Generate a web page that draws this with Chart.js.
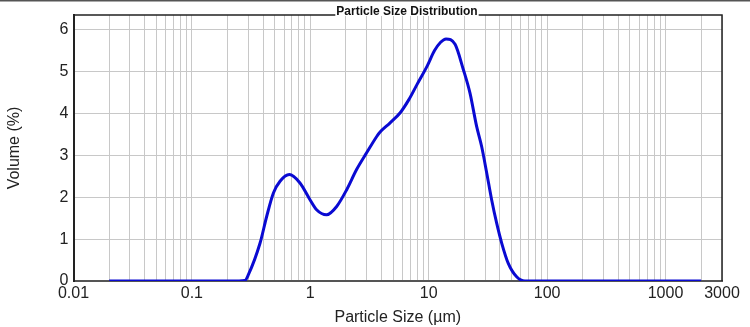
<!DOCTYPE html>
<html>
<head>
<meta charset="utf-8">
<script src="https://cdn.jsdelivr.net/npm/chart.js@4/dist/chart.umd.min.js"></script>
<style>
  html, body { margin: 0; padding: 0; background: #fff; }
  canvas { display: block; }
</style>
</head>
<body>
<canvas id="psd" width="750" height="327"></canvas>
<script>
// particle size (µm) and volume (%)
const sizes = [0.02, 0.25, 0.28, 0.30, 0.376, 0.428, 0.488, 0.555, 0.665, 0.818, 0.994,
  1.13, 1.37, 1.67, 2.03, 2.46, 2.99, 3.64, 3.87, 4.7, 5.72, 6.8, 8.0, 9.7, 11.2,
  12.6, 14.0, 16.7, 19.6, 22.3, 25.4, 28.0, 30.9, 34.0, 37.5, 41.4, 47.0, 55.3, 65, 2000];
const volumes = [0, 0, 0.01, 0.15, 0.90, 1.54, 2.10, 2.38, 2.54, 2.34, 1.94,
  1.70, 1.58, 1.78, 2.18, 2.66, 3.06, 3.45, 3.55, 3.77, 4.01, 4.33, 4.70, 5.13, 5.50,
  5.70, 5.78, 5.65, 5.05, 4.49, 3.69, 3.21, 2.58, 1.94, 1.38, 0.90, 0.42, 0.10, 0, 0];

// vertical grid lines (log decades) and which of them get a label
const xGrid = [0.01, 0.02, 0.03, 0.04, 0.05, 0.06, 0.07, 0.08, 0.09,
  0.1, 0.2, 0.3, 0.4, 0.5, 0.6, 0.7, 0.8, 0.9,
  1, 2, 3, 4, 5, 6, 7, 8, 9,
  10, 20, 30, 40, 50, 60, 70, 80, 90,
  100, 200, 300, 400, 500, 600, 700, 800, 900,
  1000, 2000, 3000];
const xLabels = ['0.01', '0.1', '1', '10', '100', '1000', '3000'];
const yTicks = [0, 1, 2, 3, 4, 5, 6];

const FONT = '"Liberation Sans", Arial, sans-serif';

// frame, top rule and the title that sits on the top border
const framePlugin = {
  id: 'frame',
  beforeDatasetsDraw(chart) {
    const { ctx, chartArea: a } = chart;
    ctx.save();
    ctx.strokeStyle = '#222';
    ctx.lineWidth = 1.5;
    ctx.beginPath();
    ctx.moveTo(a.left, a.top);
    ctx.lineTo(a.right, a.top);
    ctx.lineTo(a.right, a.bottom);
    ctx.stroke();
    ctx.restore();
  },
  afterDraw(chart) {
    const { ctx } = chart;
    ctx.save();
    ctx.fillStyle = '#555';
    ctx.fillRect(0, 0, chart.width, 1.5);
    ctx.font = 'bold 12px ' + FONT;
    const title = 'Particle Size Distribution';
    const w = ctx.measureText(title).width;
    const cx = 407;
    ctx.fillStyle = '#fff';
    ctx.fillRect(cx - w / 2 - 1, 3, w + 2, 13);
    ctx.fillStyle = '#111';
    ctx.textAlign = 'center';
    ctx.textBaseline = 'alphabetic';
    ctx.fillText(title, cx, 15);
    ctx.restore();
  }
};

new Chart(document.getElementById('psd'), {
  type: 'line',
  data: {
    datasets: [{
      data: sizes.map((s, i) => ({ x: s, y: volumes[i] })),
      borderColor: '#0a0ad2',
      borderWidth: 3,
      pointRadius: 0,
      fill: false,
      cubicInterpolationMode: 'monotone'
    }]
  },
  options: {
    responsive: false,
    animation: false,
    layout: { padding: { left: 0, right: 28, top: 15, bottom: 0 } },
    plugins: { legend: { display: false }, tooltip: { enabled: false } },
    scales: {
      x: {
        type: 'logarithmic',
        min: 0.01,
        max: 3000,
        afterBuildTicks: s => { s.ticks = xGrid.map(v => ({ value: v })); },
        afterFit: s => { s.height = 46; },
        ticks: {
          autoSkip: false,
          maxRotation: 0,
          padding: 3,
          color: '#222',
          font: { family: FONT, size: 16 },
          callback: v => (xLabels.includes(String(v)) ? String(v) : '')
        },
        grid: { color: '#c8c8c8', lineWidth: 1, drawTicks: false },
        border: { color: '#555', width: 2 },
        title: {
          display: true,
          text: 'Particle Size (µm)',
          color: '#222',
          font: { family: FONT, size: 16 },
          padding: { top: 0, bottom: 0 }
        }
      },
      y: {
        min: 0,
        max: 6.35,
        afterBuildTicks: s => { s.ticks = yTicks.map(v => ({ value: v })); },
        afterFit: s => { s.width = 73.5; },
        ticks: {
          padding: 5,
          color: '#222',
          font: { family: FONT, size: 16 }
        },
        grid: { color: '#c8c8c8', lineWidth: 1, drawTicks: false },
        border: { color: '#222', width: 2 },
        title: {
          display: true,
          text: 'Volume (%)',
          color: '#222',
          font: { family: FONT, size: 16 },
          padding: { top: 5, bottom: 0 }
        }
      }
    }
  },
  plugins: [framePlugin]
});
</script>
</body>
</html>
